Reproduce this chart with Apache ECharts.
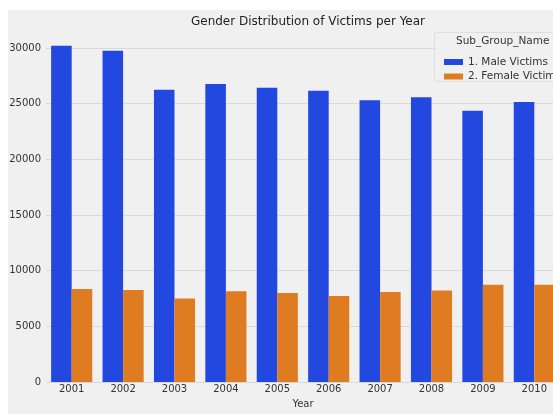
<!DOCTYPE html>
<html>
<head>
<meta charset="utf-8">
<script src="https://cdn.jsdelivr.net/npm/echarts@6/dist/echarts.min.js"></script>
<style>
html,body{margin:0;padding:0;background:#ffffff;overflow:hidden;width:553px;height:414px;}
#c{width:561px;height:414px;}
</style>
</head>
<body>
<div id="c"></div>
<script>
var years = ['2001','2002','2003','2004','2005','2006','2007','2008','2009','2010'];
var maleVictims = [30200, 29750, 26260, 26760, 26430, 26170, 25300, 25570, 24370, 25160];
var femaleVictims = [8370, 8260, 7500, 8150, 8000, 7740, 8090, 8230, 8750, 8750];
var yTicks = {min: 0, max: 30000, interval: 5000};
var seriesNames = ['1. Male Victims', '2. Female Victims'];

var FONT = 'DejaVu Sans';
var chart = echarts.init(document.getElementById('c'), null, {renderer: 'canvas'});
chart.setOption({
  backgroundColor: 'transparent',
  animation: false,
  textStyle: {fontFamily: FONT},
  title: {
    text: 'Gender Distribution of Victims per Year',
    left: 303, top: 11, textAlign: 'center',
    textStyle: {fontFamily: FONT, fontSize: 12, fontWeight: 'normal', color: '#222'}
  },
  graphic: [
    {type: 'rect', left: 8, top: 10, z: -100, shape: {width: 560, height: 404}, style: {fill: '#f0f0f0'}},
    {type: 'rect', left: 434, top: 32, z: 50, shape: {width: 130, height: 49, r: 2}, style: {fill: '#f0f0f0', stroke: '#dedede', lineWidth: 1}},
    {type: 'text', left: 456, top: 36, z: 51, style: {text: 'Sub_Group_Name', font: '10.5px "DejaVu Sans"', fill: '#333'}}
  ],
  legend: {
    orient: 'vertical', left: 439, top: 51, z: 52,
    itemWidth: 19, itemHeight: 6, itemGap: 2.5,
    icon: 'rect',
    textStyle: {fontFamily: FONT, fontSize: 10.5, color: '#333', lineHeight: 12},
    data: seriesNames
  },
  grid: {left: 46, right: 1, top: 48, bottom: 22, containLabel: false},
  xAxis: {
    type: 'category', data: years,
    name: 'Year', nameLocation: 'middle', nameGap: 12,
    nameTextStyle: {fontFamily: FONT, fontSize: 10, color: '#333'},
    axisLine: {show: false}, axisTick: {show: false},
    axisLabel: {fontFamily: FONT, fontSize: 10, color: '#333', margin: 2},
    splitLine: {show: false}
  },
  yAxis: {
    type: 'value', min: yTicks.min, max: yTicks.max, interval: yTicks.interval,
    axisLine: {show: false}, axisTick: {show: false},
    axisLabel: {fontFamily: FONT, fontSize: 10, color: '#333', margin: 5, formatter: function (v) { return String(v); }},
    splitLine: {show: true, lineStyle: {color: '#d9d9d9', width: 1}}
  },
  series: [
    {name: seriesNames[0], type: 'bar', data: maleVictims, clip: false, barGap: '0%', barCategoryGap: '20%', itemStyle: {color: '#2248df'}},
    {name: seriesNames[1], type: 'bar', data: femaleVictims, clip: false, itemStyle: {color: '#df7c22'}}
  ]
});
</script>
</body>
</html>
